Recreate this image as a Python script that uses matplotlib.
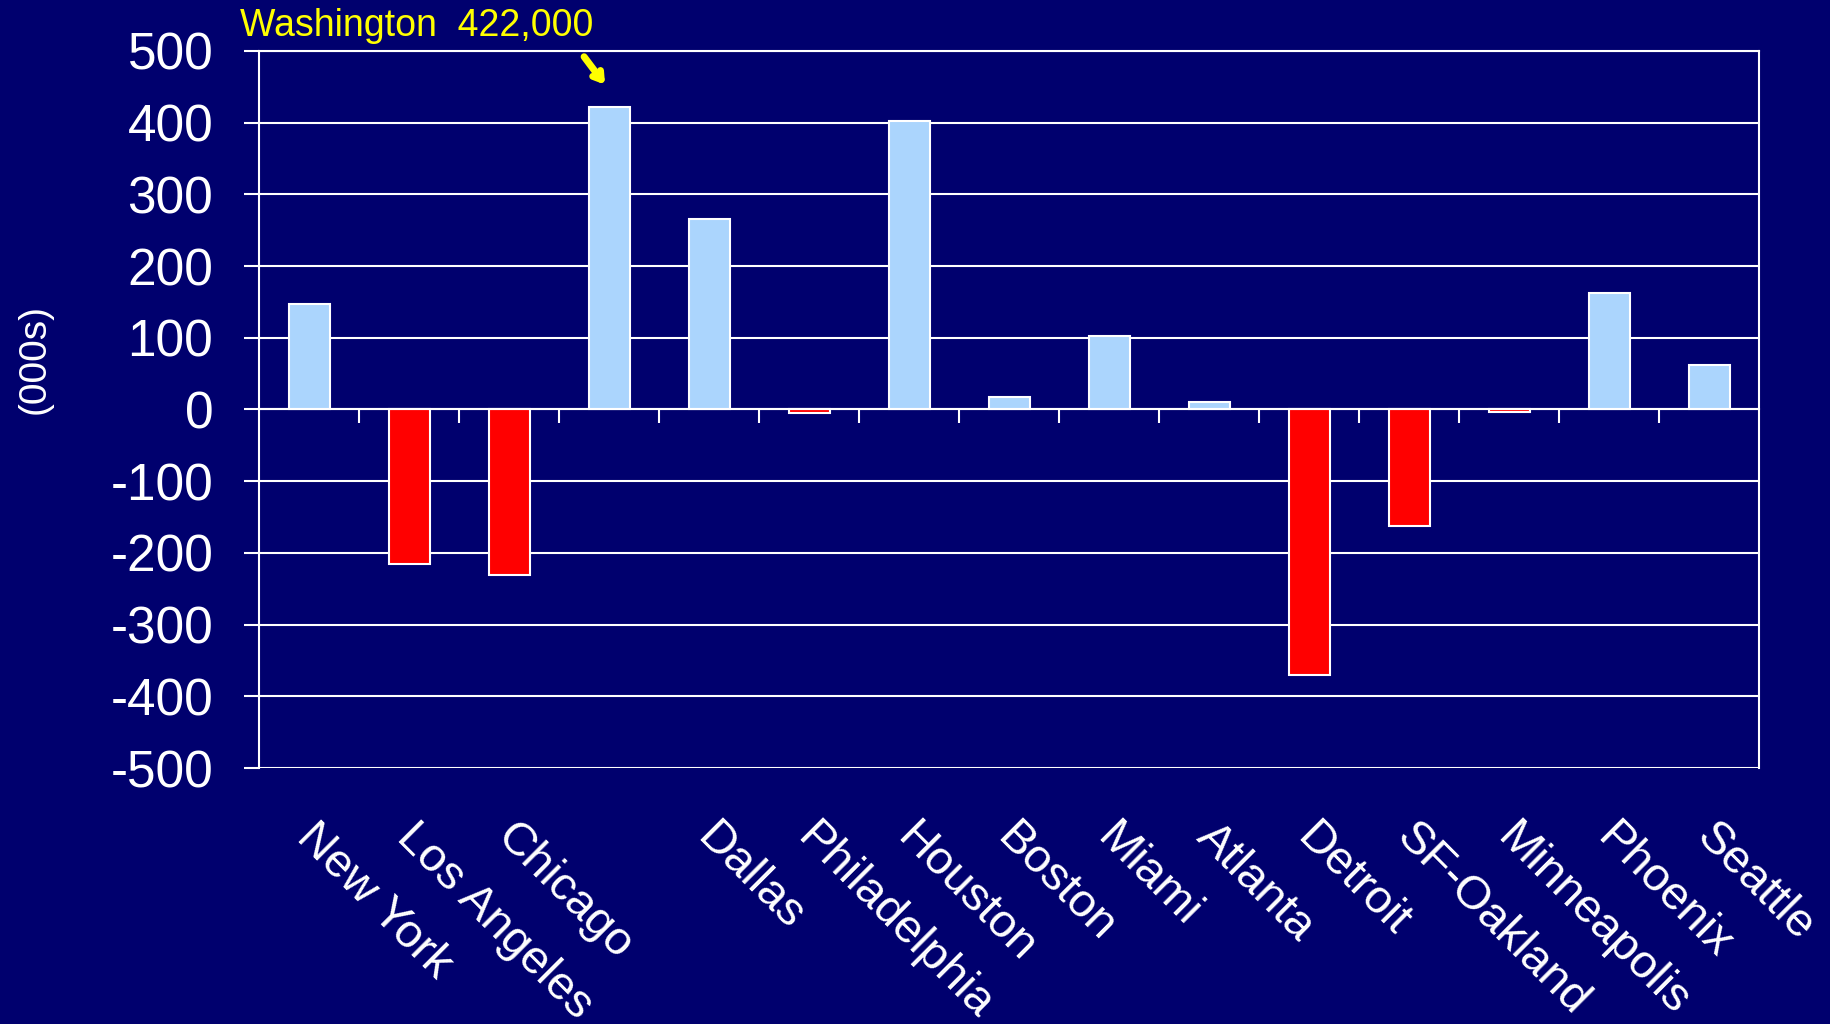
import matplotlib
matplotlib.use("Agg")
import matplotlib.pyplot as plt
import matplotlib.transforms as mtransforms

categories = ["New York", "Los Angeles", "Chicago", "", "Dallas", "Philadelphia",
              "Houston", "Boston", "Miami", "Atlanta", "Detroit", "SF-Oakland",
              "Minneapolis", "Phoenix", "Seattle"]
values = [147, -216, -231, 422, 265, -5, 402, 18, 103, 11, -370, -162, -3, 162, 62]
yticks = [500, 400, 300, 200, 100, 0, -100, -200, -300, -400, -500]
annot_text = "Washington  422,000"
annot_index = 3

BG = "#00006E"
BLUE = "#ABD5FD"
RED = "#FF0000"
YELLOW = "#FFFF00"

plt.rcParams['font.family'] = ['Liberation Sans', 'DejaVu Sans']

fig = plt.figure(figsize=(18.31, 10.24), dpi=100, facecolor=BG)
ax = fig.add_axes([0.1415, 0.25, 0.8192, 0.7002], facecolor=BG)

n = len(categories)
xs = list(range(n))
colors = [BLUE if v >= 0 else RED for v in values]
ax.bar(xs, values, width=0.41, color=colors, edgecolor="white", linewidth=1.5, zorder=3)

ax.set_xlim(-0.5, n - 0.5)
ax.set_ylim(-500, 500)
ax.set_yticks(yticks)
ax.set_yticklabels([str(t) for t in yticks])
ax.yaxis.grid(True, color="white", linewidth=1.5, zorder=1)
ax.set_axisbelow(True)

for s in ax.spines.values():
    s.set_color("white")
    s.set_linewidth(1.5)
ax.spines['bottom'].set_position(('data', 0))
ax.spines['bottom'].set_zorder(4)

# category boundary ticks on the zero line
ax.set_xticks([i + 0.5 for i in range(n - 1)])
ax.set_xticklabels([])
ax.tick_params(axis='x', direction='out', length=10, width=1.5, color='white')
ax.tick_params(axis='y', direction='out', length=11, width=1.5, color='white',
               labelcolor='white', labelsize=37, pad=22)

trans = mtransforms.blended_transform_factory(ax.transData, ax.transAxes)
for i, lab in enumerate(categories):
    ax.text(i + 0.1, -0.066, lab, transform=trans, rotation=-45,
            rotation_mode='anchor', ha='left', va='top', color='white', fontsize=34)

fig.text(35 / 1831, 0.649, "(000s)", rotation=90, ha='center', va='center',
         color='white', fontsize=28)

fig.text(240 / 1831, 1 - 26 / 1024, annot_text, ha='left', va='center',
         color=YELLOW, fontsize=27)

ax.annotate("", xy=(annot_index - 0.04, values[annot_index] + 31),
            xytext=(annot_index - 0.25, values[annot_index] + 70),
            arrowprops=dict(arrowstyle="->,head_length=0.55,head_width=0.35",
                            color=YELLOW, lw=5, shrinkA=0, shrinkB=0),
            annotation_clip=False)

fig.savefig("out.png", dpi=100, facecolor=BG)
